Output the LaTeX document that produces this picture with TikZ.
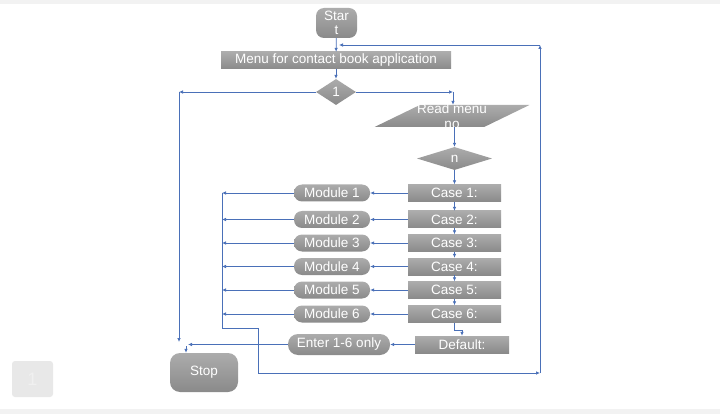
\documentclass[tikz,border=0pt]{standalone}
\usepackage{fontspec}
\setmainfont{Liberation Sans}
\usepackage{tikz}
\usetikzlibrary{arrows.meta,shapes.geometric,positioning}
\usepackage{xcolor}
\definecolor{fcblue}{RGB}{74,112,184}
\definecolor{fctop}{RGB}{172,172,172}
\definecolor{fcbot}{RGB}{138,138,138}
\definecolor{fcband}{RGB}{242,242,242}
\tikzstyle{arrow} = [->,>={Latex[length=4pt,width=3.5pt]},line width=0.7pt,color=fcblue]
\tikzstyle{line} = [line width=0.7pt,color=fcblue]
\tikzstyle{grey} = [top color=fctop,bottom color=fcbot,text=white,inner sep=0pt,align=center]
\tikzstyle{box} = [grey,rectangle,minimum width=93,minimum height=17]
\tikzstyle{pill} = [grey,rectangle,rounded corners=8pt,minimum width=76,minimum height=17]
\tikzstyle{decision} = [grey,diamond]
\tikzstyle{io} = [grey,trapezium,inner sep=1pt,trapezium left angle=56,trapezium right angle=124,trapezium stretches=true,minimum width=155,minimum height=22]

\begin{document}
\begin{tikzpicture}[x=1pt,y=-1pt,font=\fontsize{13.5}{14.5}\selectfont]
% Page
\useasboundingbox (0,0) rectangle (720,414);
\fill[white] (0,0) rectangle (720,414);
\fill[fcband] (0,0) rectangle (720,4);
\fill[fcband] (0,409) rectangle (720,414);
\node[rectangle, rounded corners=3pt, fill=gray!18, text=gray!12, minimum width=41, minimum height=36, font=\fontsize{18}{20}\selectfont] (page) at (32.5,379) {1};

% Top of the chart
\node[grey, rectangle, rounded corners=8pt, minimum width=41, minimum height=30] (start) at (336.5,23) {Star\\t};
\node[box, minimum width=230] (menu) at (336,60.5) {Menu for contact book application};
\node[decision, minimum width=40, minimum height=26] (d1) at (336,92) {1};
\node[io] (read) at (452,116) {\phantom{x}};
\node[text=white, align=center] (readtxt) at (read.center) {Read menu\\no};
\node[decision, minimum width=75, minimum height=23] (dn) at (454.5,158.5) {n};

% Cases and modules
\foreach \i/\y in {1/193,2/219.5,3/243,4/266.5,5/290,6/314} {
  \node[box] (case\i) at (454.5,\y) {Case \i:};
  \node[pill] (mod\i) at (332,\y) {Module \i};
  \coordinate (bus\i) at (222,\y);
  \draw[arrow] (case\i) -- (mod\i);
  \draw[arrow] (mod\i) -- (bus\i);
}
\foreach \i/\j in {1/2,2/3,3/4,4/5,5/6}
  \draw[arrow] (case\i) -- (case\j);

\node[box, minimum width=94] (dflt) at (462,344.5) {Default:};
\node[pill, rounded corners=10pt, minimum width=102, minimum height=21] (enter) at (339,344.5) {Enter 1-6 only};
\node[grey, rectangle, rounded corners=10pt, minimum width=68, minimum height=39] (stop) at (204,372.5) {Stop};

% Coordinates for free ends
\coordinate (cL) at (179,92);
\coordinate (cLb) at (179,342);
\coordinate (cR) at (453,92);
\coordinate (cE) at (188,344.5);
\coordinate (cS) at (186,346);
\coordinate (loopR) at (540,373);
\coordinate (loopT) at (540,45);
\coordinate (back) at (339,45);

% Connectors
\draw[arrow] (start) -- (menu);
\draw[arrow] (menu) -- (d1);
\draw[arrow] (d1.west) -- (cL);
\draw[arrow] (cL) -- (cLb);
\draw[arrow] (d1.east) -- (cR);
\draw[arrow] (cR) -- (cR |- read.north);
\draw[arrow] (dn |- read.south) -- (dn.north);
\draw[arrow] (dn) -- (case1);
\draw[arrow] (case6.south) -- ++(0,8) -| (dflt.north);
\draw[arrow] (dflt) -- (enter);
\draw[arrow] (enter) -- (cE);
\draw[arrow] (cS) -- (cS |- stop.north);

% Loop back to the menu
\draw[arrow] (bus1) |- (258,328) |- (loopR);
\draw[arrow] (loopR) -- (loopT);
\draw[arrow] (loopT) -- (back);
\end{tikzpicture}
\end{document}
